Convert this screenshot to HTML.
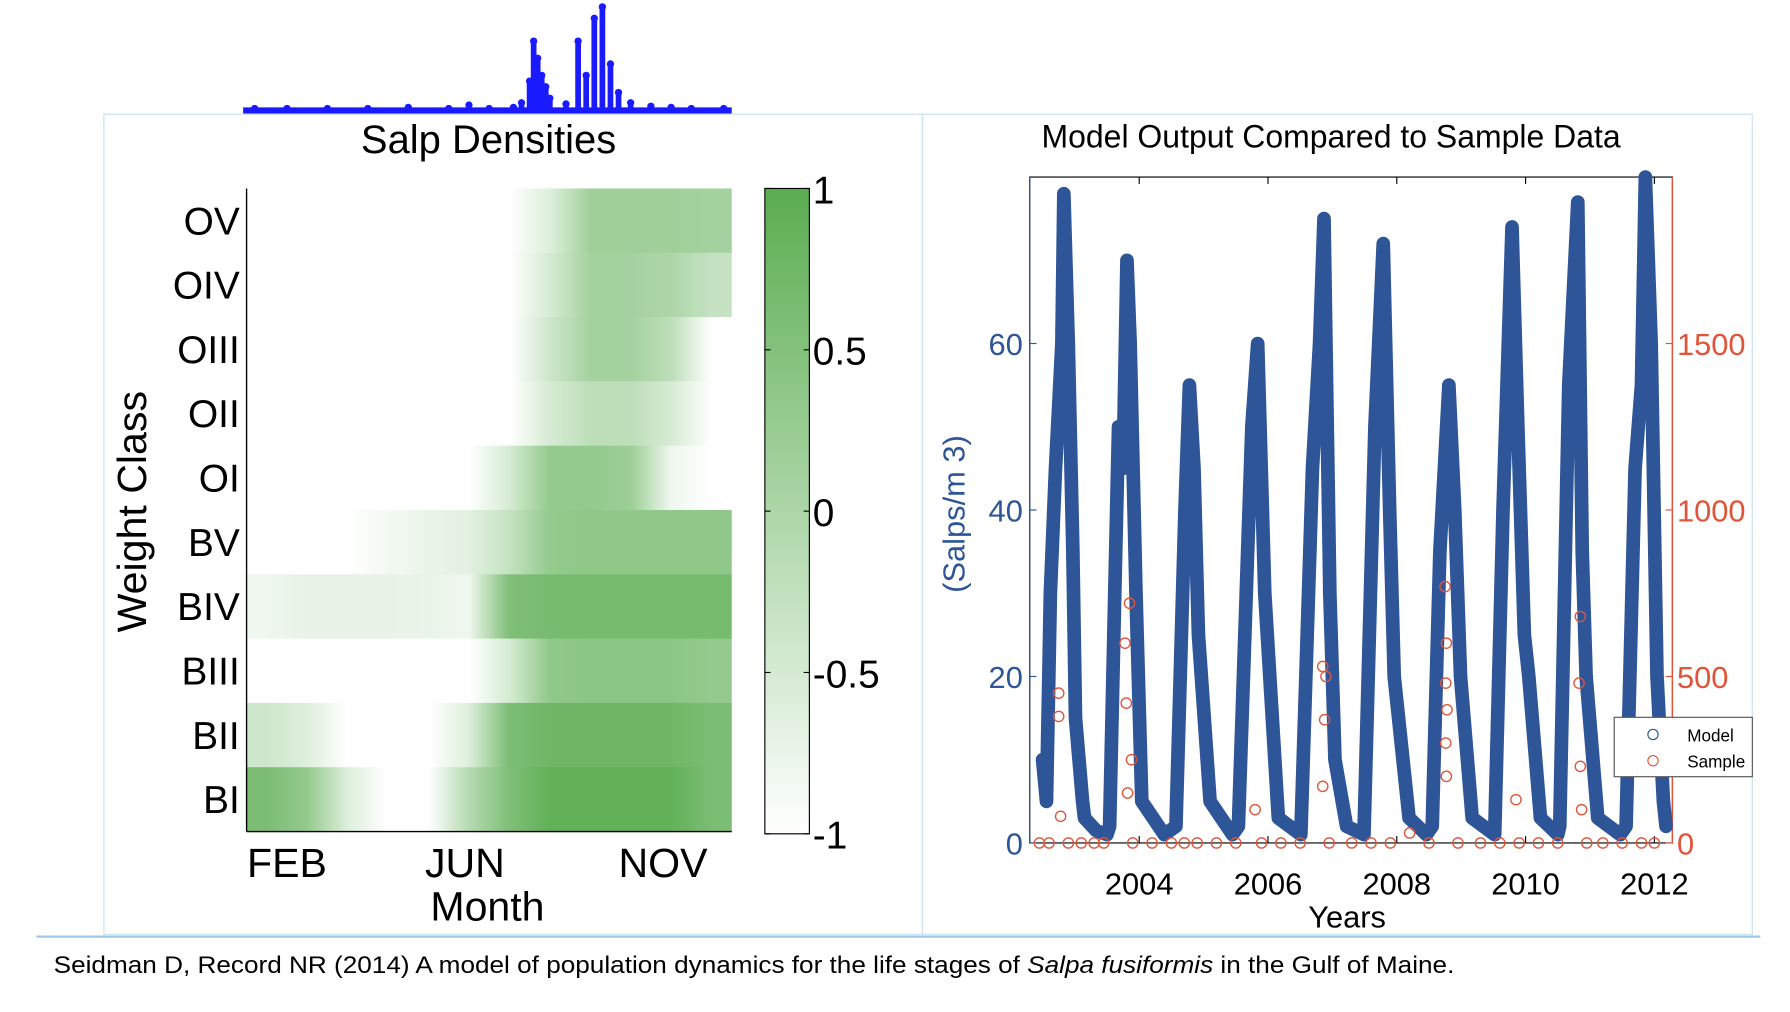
<!DOCTYPE html>
<html><head><meta charset="utf-8"><style>
html,body{margin:0;padding:0;background:#fff;}
svg{display:block;}
text{font-family:"Liberation Sans",sans-serif;}
</style></head><body>
<svg id="fig" width="1790" height="1012" viewBox="0 0 1568 886" preserveAspectRatio="none" xmlns="http://www.w3.org/2000/svg">
<defs id="defs"></defs>
<g id="spark"></g>
<rect x="91" y="100" width="717" height="718" fill="none" stroke="#cfe6f0" stroke-width="1.2"/>
<rect x="808" y="100" width="727" height="718" fill="none" stroke="#cfe6f0" stroke-width="1.2"/>
<line x1="32" y1="820" x2="1542" y2="820" stroke="#9fc7e6" stroke-width="2"/>
<text x="428" y="134" font-size="35" text-anchor="middle">Salp Densities</text>
<g id="heat"></g>
<g id="cbar"></g>
<text transform="translate(128,448) rotate(-90)" font-size="36" text-anchor="middle">Weight Class</text>
<text x="427" y="806" font-size="36" text-anchor="middle">Month</text>
<text x="1166" y="129" font-size="28" text-anchor="middle">Model Output Compared to Sample Data</text>
<g id="chart"></g>
<text x="47" y="852" font-size="21" textLength="1227" lengthAdjust="spacingAndGlyphs">Seidman D, Record NR (2014) A model of population dynamics for the life stages of <tspan font-style="italic">Salpa fusiformis</tspan> in the Gulf of Maine.</text>
</svg>
<script>
// ---------- heatmap data ----------
const rowLabels = ["OV","OIV","OIII","OII","OI","BV","BIV","BIII","BII","BI"];
const monthTicks = ["FEB","JUN","NOV"];
const monthTickIdx = [1.0, 5.4, 10.3];
const heatOV   = [-1,-1,-1,-1,-1,-1,-1,-0.6,0.15,0.15,0.15,0.1];
const heatOIV  = [-1,-1,-1,-1,-1,-1,-1,-0.5,0.1,0.1,0.0,-0.3];
const heatOIII = [-1,-1,-1,-1,-1,-1,-1,-0.4,0.1,0.1,-0.2,-1];
const heatOII  = [-1,-1,-1,-1,-1,-1,-1,-0.5,-0.2,-0.2,-0.5,-1];
const heatOI   = [-1,-1,-1,-1,-1,-1,-0.5,0.3,0.3,0.2,-0.8,-1];
const heatBV   = [-1,-1,-1,-0.85,-0.75,-0.65,-0.3,0.3,0.35,0.35,0.35,0.35];
const heatBIV  = [-0.8,-0.7,-0.7,-0.7,-0.75,-0.8,0.55,0.65,0.65,0.65,0.65,0.65];
const heatBIII = [-1,-1,-1,-1,-1,-1,-0.5,0.35,0.4,0.4,0.4,0.3];
const heatBII  = [-0.4,-0.6,-1,-1,-1,-0.6,0.6,0.75,0.75,0.75,0.75,0.6];
const heatBI   = [0.6,0.3,-0.6,-1,-1,-0.1,0.55,0.9,0.9,0.9,0.9,0.6];
const heatRows = [heatOV,heatOIV,heatOIII,heatOII,heatOI,heatBV,heatBIV,heatBIII,heatBII,heatBI];
const cbarTicks = [1,0.5,0,-0.5,-1];
const cbarLabels = ["1","0.5","0","-0.5","-1"];

// ---------- sparkline data (month position, height) ----------
const sparkMonth = [0.2,1.0,2.0,3.0,4.0,5.0,5.5,6.0,6.6,6.8,7.0,7.1,7.2,7.3,7.4,7.5,7.9,8.2,8.4,8.6,8.8,9.0,9.2,9.5,10,10.5,11,11.8];
const sparkVal   = [1,1,1,1,2,1,4,1,2,6,25,60,45,30,20,10,5,60,30,80,90,40,15,6,3,2,1,1];

// ---------- line chart data ----------
const modelYear = [2002.50,2002.56,2002.62,2002.70,2002.80,2002.83,2002.90,2002.97,2003.01,2003.12,2003.15,2003.33,2003.50,
 2003.54,2003.62,2003.68,2003.75,2003.81,2003.86,2003.95,2004.04,2004.39,
 2004.57,2004.71,2004.78,2004.85,2004.92,2005.10,2005.45,
 2005.54,2005.75,2005.84,2005.95,2006.16,2006.51,
 2006.69,2006.80,2006.87,2006.96,2007.04,2007.22,2007.49,
 2007.66,2007.79,2007.89,2007.96,2008.19,2008.46,
 2008.55,2008.67,2008.81,2008.90,2008.99,2009.17,2009.52,
 2009.65,2009.79,2009.88,2009.98,2010.05,2010.23,2010.50,
 2010.53,2010.67,2010.81,2010.88,2010.94,2011.12,2011.47,
 2011.56,2011.70,2011.80,2011.86,2011.95,2012.04,2012.14,2012.18];
const modelVal = [10,5,30,45,60,78,60,35,15,5,3,1.5,1,
 2,30,50,45,70,60,30,5,1,
 2,40,55,45,25,5,1,
 2,50,60,30,3,1,
 45,60,75,30,10,2,1,
 50,72,40,20,3,1,
 2,35,55,40,20,3,1,
 40,74,50,25,20,3,1,
 2,55,77,35,20,3,1,
 2,45,55,80,60,20,5,2];
const sampleYear = [2002.45,2002.6,2002.75,2002.75,2002.78,2002.9,2003.1,2003.3,2003.45,2003.78,2003.8,2003.85,2003.88,2003.82,2003.9,2004.2,2004.5,2004.7,2004.9,2005.2,2005.5,2005.8,2005.9,2006.2,2006.5,2006.85,2006.9,2006.88,2006.85,2006.95,2007.3,2007.6,2007.9,2008.2,2008.5,2008.75,2008.77,2008.76,2008.78,2008.76,2008.77,2008.95,2009.3,2009.6,2009.85,2009.9,2010.2,2010.5,2010.85,2010.83,2010.85,2010.87,2010.95,2011.2,2011.5,2011.8,2012.0];
const sampleVal  = [0,0,450,380,80,0,0,0,0,600,420,720,250,150,0,0,0,0,0,0,0,100,0,0,0,530,500,370,170,0,0,0,0,30,0,770,600,480,400,300,200,0,0,0,130,0,0,0,680,480,230,100,0,0,0,0,0];
const yTicks = [0,20,40,60];
const y2Ticks = [0,500,1000,1500];
const xTicks = [2004,2006,2008,2010,2012];

const NS="http://www.w3.org/2000/svg";
function mk(tag, parent, attrs){const e=document.createElementNS(NS,tag);for(const k in attrs)e.setAttribute(k,attrs[k]);parent.appendChild(e);return e;}

// heatmap
const hx0=216,hx1=641,hy0=165,hy1=728;
const nRows=heatRows.length, rowH=(hy1-hy0)/nRows, colW=(hx1-hx0)/12;
function heatColor(v){const t=(v+1)/2;const r=Math.round(255+(90-255)*t),g=Math.round(255+(173-255)*t),b=Math.round(255+(80-255)*t);return `rgb(${r},${g},${b})`;}
const defs=document.getElementById('defs');
const heat=document.getElementById('heat');
heatRows.forEach((row,i)=>{
  const gr=mk('linearGradient',defs,{id:'hg'+i,x1:'0',x2:'1',y1:'0',y2:'0'});
  row.forEach((v,j)=>{mk('stop',gr,{offset:((j+0.5)/12).toFixed(4),'stop-color':heatColor(v)});});
  const r=mk('rect',heat,{x:hx0,y:hy0+i*rowH,width:hx1-hx0,height:rowH+0.5,fill:`url(#hg${i})`});
  
  
  const t=mk('text',heat,{x:210,y:hy0+(i+0.5)*rowH+12,'font-size':34,'text-anchor':'end'});
  t.textContent=rowLabels[i];
  
  
});
mk('line',heat,{x1:hx0,y1:hy0,x2:hx0,y2:hy1,stroke:'#000','stroke-width':1.2});
mk('line',heat,{x1:hx0,y1:hy1,x2:hx1,y2:hy1,stroke:'#000','stroke-width':1.2});
monthTicks.forEach((m,k)=>{
  const t=mk('text',heat,{x:hx0+monthTickIdx[k]*colW,y:768,'font-size':36,'text-anchor':'middle'});
  t.textContent=m;
  
  
});
// colorbar
const cb=document.getElementById('cbar');
const cx0=670,cx1=709,cy0=165,cy1=730;
const cg=mk('linearGradient',defs,{id:'cbg',x1:'0',x2:'0',y1:'1',y2:'0'});
mk('stop',cg,{offset:'0','stop-color':heatColor(-1)});
mk('stop',cg,{offset:'1','stop-color':heatColor(1)});
mk('rect',cb,{x:cx0,y:cy0,width:cx1-cx0,height:cy1-cy0,fill:'url(#cbg)',stroke:'#000','stroke-width':1});
function cbY(v){return cy1-(v+1)/2*(cy1-cy0);}
cbarTicks.forEach((v,k)=>{
  const y=cbY(v);
  mk('line',cb,{x1:cx0,y1:y,x2:cx0+5,y2:y,stroke:'#000'});
  mk('line',cb,{x1:cx1-5,y1:y,x2:cx1,y2:y,stroke:'#000'});
  const t=mk('text',cb,{x:cx1+3,y:y+13,'font-size':34});
  t.textContent=cbarLabels[k];
  
  
});
// sparkline
const sp=document.getElementById('spark');
mk('rect',sp,{x:213,y:94,width:428,height:6,fill:'#1a1aff'});
sparkMonth.forEach((m,k)=>{
  const x=hx0+m*colW, h=sparkVal[k];
  const c=mk('circle',sp,{cx:x,cy:96-h,r:3.2,fill:'#1a1aff'});
  
  
  if(h>3){mk('line',sp,{x1:x,y1:96,x2:x,y2:96-h,stroke:'#1a1aff','stroke-width':5});}
});

// line chart
const ch=document.getElementById('chart');
const px0=902,px1=1465,py0=155,py1=738;
const xMin=2002.30,xMax=2012.28,yMax=80;
function X(yr){return px0+(yr-xMin)/(xMax-xMin)*(px1-px0);}
function Y(v){return py1-v/yMax*(py1-py0);}
function Y2(v){return Y(v/25);}
mk('rect',ch,{x:px0,y:py0,width:px1-px0,height:py1-py0,fill:'none',stroke:'#000','stroke-width':1});
mk('line',ch,{x1:px1,y1:py0,x2:px1,y2:py1,stroke:'#e0553a','stroke-width':1.2});
mk('line',ch,{x1:px0,y1:py0,x2:px0,y2:py1,stroke:'#2e5597','stroke-width':1.2});
yTicks.forEach(v=>{
  const y=Y(v);
  mk('line',ch,{x1:px0,y1:y,x2:px0+6,y2:y,stroke:'#2e5597'});
  const t=mk('text',ch,{x:px0-6,y:y+10,'font-size':27,'text-anchor':'end',fill:'#2e5597'});
  t.textContent=v;
  
  
});
y2Ticks.forEach(v=>{
  const y=Y2(v);
  mk('line',ch,{x1:px1-6,y1:y,x2:px1,y2:y,stroke:'#e0553a'});
  const t=mk('text',ch,{x:px1+4,y:y+10,'font-size':27,fill:'#e0553a'});
  t.textContent=v;
  
  
});
xTicks.forEach(v=>{
  const x=X(v);
  mk('line',ch,{x1:x,y1:py1,x2:x,y2:py1-6,stroke:'#000'});
  mk('line',ch,{x1:x,y1:py0,x2:x,y2:py0+6,stroke:'#000'});
  const t=mk('text',ch,{x:x,y:783,'font-size':27,'text-anchor':'middle'});
  t.textContent=v;
  
  
});
const yl=mk('text',ch,{transform:'translate(845,450) rotate(-90)','font-size':27,'text-anchor':'middle',fill:'#2e5597'});
yl.textContent='(Salps/m  3)';


const xl=mk('text',ch,{x:1180,y:812,'font-size':27,'text-anchor':'middle'});
xl.textContent='Years';


// model band
const pts=modelYear.map((yr,k)=>X(yr).toFixed(1)+','+Y(modelVal[k]).toFixed(1)).join(' ');
const band=mk('polyline',ch,{points:pts,fill:'none',stroke:'#2d5597','stroke-width':12,'stroke-linejoin':'round','stroke-linecap':'round'});


modelYear.forEach((yr,k)=>{
  const c=mk('circle',ch,{cx:X(yr),cy:Y(modelVal[k]),r:5,fill:'none',stroke:'#2d5597','stroke-width':1.2});
  
  
});
sampleYear.forEach((yr,k)=>{
  const c=mk('circle',ch,{cx:X(yr),cy:Y2(sampleVal[k]),r:4.5,fill:'none',stroke:'#e0553a','stroke-width':1.2});
  
  
});
// legend
const lg=mk('g',ch,{});


mk('rect',lg,{x:1414,y:628,width:121,height:52,fill:'#fff',stroke:'#555','stroke-width':1});
mk('circle',lg,{cx:1448,cy:643,r:4.5,fill:'none',stroke:'#2d5597'});
mk('circle',lg,{cx:1448,cy:666,r:4.5,fill:'none',stroke:'#e0553a'});
const l1=mk('text',lg,{x:1478,y:649,'font-size':15});l1.textContent='Model';


const l2=mk('text',lg,{x:1478,y:672,'font-size':15});l2.textContent='Sample';


</script>
</body></html>
